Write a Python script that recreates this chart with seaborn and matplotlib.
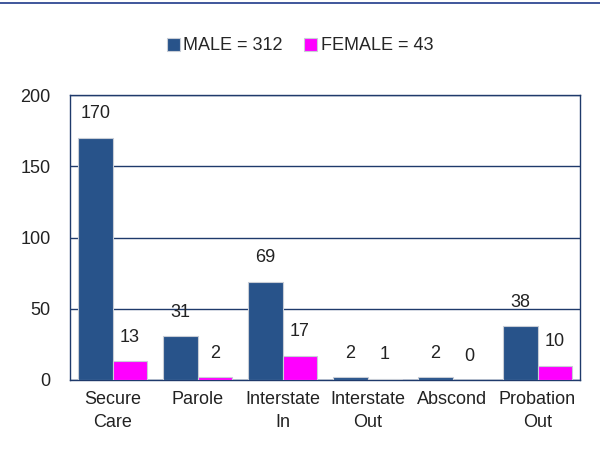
import pandas as pd
import seaborn as sns
from matplotlib import pyplot as plt
from matplotlib.lines import Line2D

categories = ["Secure\nCare", "Parole", "Interstate\nIn", "Interstate\nOut", "Abscond", "Probation\nOut"]
male = [170, 31, 69, 2, 2, 38]
female = [13, 2, 17, 1, 0, 10]
series_names = ["MALE = 312", "FEMALE = 43"]

df = pd.DataFrame({
    "category": categories * 2,
    "count": male + female,
    "group": [series_names[0]] * len(male) + [series_names[1]] * len(female),
})

sns.set_style("white")
plt.rcParams['font.family'] = ['Liberation Sans Narrow', 'Liberation Sans', 'DejaVu Sans']

navy = "#1F3A6B"
fig = plt.figure(figsize=(6, 4.53), dpi=100)
ax = fig.add_axes([70 / 600, 1 - 380 / 453, 510 / 600, 285 / 453])

sns.barplot(data=df, x="category", y="count", hue="group",
            palette=["#28538A", "#FF00FF"], saturation=1, width=0.81, gap=0,
            edgecolor="#c8cdd6", linewidth=0.8, ax=ax, zorder=3)

for cont in ax.containers:
    ax.bar_label(cont, padding=11, fontsize=13, color="#222222")

ax.set_ylim(0, 200)
ax.set_yticks([0, 50, 100, 150, 200])
ax.yaxis.grid(True, color=navy, linewidth=1)
ax.set_axisbelow(True)
for s in ax.spines.values():
    s.set_color(navy)
    s.set_linewidth(1)
ax.tick_params(axis="both", length=0, labelsize=13, colors="#222222")
ax.tick_params(axis="y", pad=14)
ax.tick_params(axis="x", pad=8)
for t in ax.get_xticklabels():
    t.set_linespacing(1.45)
ax.set_xlabel("")
ax.set_ylabel("")

handles, labels = ax.get_legend_handles_labels()
ax.legend(handles, labels, loc="center", bbox_to_anchor=(0.5, 1 - 46 / 453),
          bbox_transform=fig.transFigure, ncol=2, frameon=False, fontsize=13,
          handlelength=0.7, handleheight=0.7, handletextpad=0.2, columnspacing=1.2)

fig.add_artist(Line2D([0, 1], [1 - 3 / 453, 1 - 3 / 453], color="#1F3A8A", linewidth=1.2))

plt.savefig("out.png")
